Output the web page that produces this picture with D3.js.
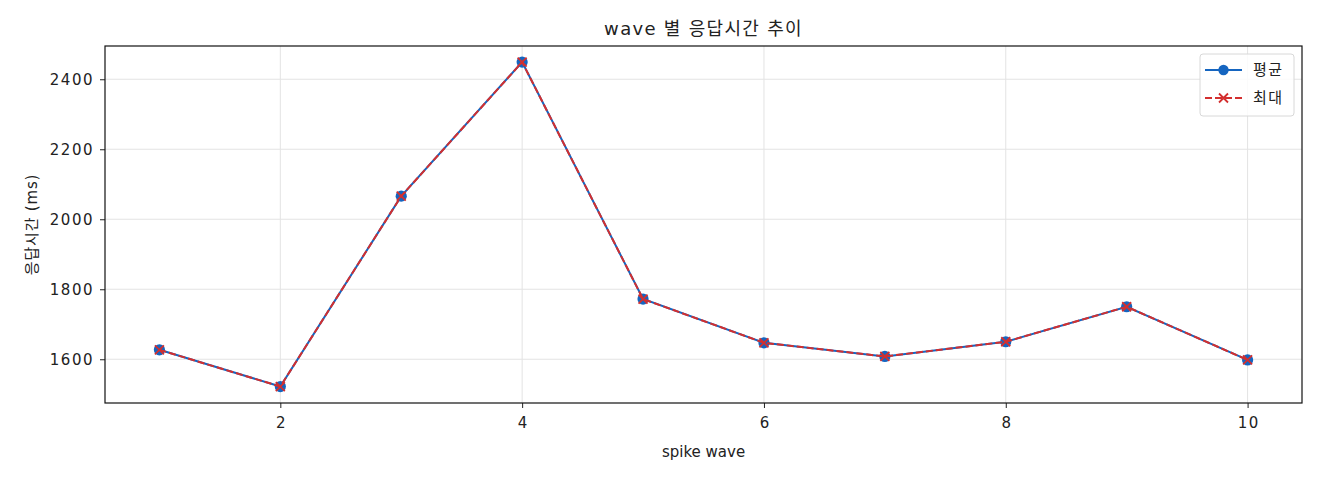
<!DOCTYPE html>
<html>
<head>
<meta charset="utf-8">
<script src="https://cdn.jsdelivr.net/npm/d3@7"></script>
<style>
  body { margin: 0; background: #fff; }
  text { font-family: "DejaVu Sans", "Noto Sans CJK KR", sans-serif; fill: #222; }
</style>
</head>
<body>
<div id="chart"></div>
<script>
// data
var waves = [1, 2, 3, 4, 5, 6, 7, 8, 9, 10];
var avgMs = [1627, 1522, 2066, 2449, 1772, 1647, 1608, 1650, 1750, 1598];
var maxMs = [1627, 1522, 2066, 2449, 1772, 1647, 1608, 1650, 1750, 1598];
var xTicks = [2, 4, 6, 8, 10];
var yTicks = [1600, 1800, 2000, 2200, 2400];
var seriesNames = ["평균", "최대"];

var svgWidth = 1320;
var svgHeight = 480;
var margin = { top: 46, right: 18, bottom: 77, left: 105 };
var width = svgWidth - margin.left - margin.right;
var height = svgHeight - margin.top - margin.bottom;

var blue = "#1565c0";
var red = "#d32f2f";
var fontStack = "\"DejaVu Sans\", \"Noto Sans CJK KR\", sans-serif";

var svg = d3.select("#chart")
  .append("svg")
  .attr("width", svgWidth)
  .attr("height", svgHeight);

var chartGroup = svg.append("g")
  .attr("transform", `translate(${margin.left}, ${margin.top})`);

var xScale = d3.scaleLinear().domain([0.55, 10.45]).range([0, width]);
var yScale = d3.scaleLinear().domain([1475, 2495]).range([height, 0]);

// grid
chartGroup.append("g")
  .selectAll("line")
  .data(xTicks)
  .enter()
  .append("line")
  .attr("x1", d => xScale(d)).attr("x2", d => xScale(d))
  .attr("y1", 0).attr("y2", height)
  .attr("stroke", "#e3e3e3").attr("stroke-width", 1);

chartGroup.append("g")
  .selectAll("line")
  .data(yTicks)
  .enter()
  .append("line")
  .attr("x1", 0).attr("x2", width)
  .attr("y1", d => yScale(d)).attr("y2", d => yScale(d))
  .attr("stroke", "#e3e3e3").attr("stroke-width", 1);

// axes
var bottomAxis = d3.axisBottom(xScale).tickValues(xTicks).tickFormat(d3.format("d"))
  .tickSize(5).tickPadding(9);
var leftAxis = d3.axisLeft(yScale).tickValues(yTicks).tickFormat(d3.format("d"))
  .tickSize(5).tickPadding(6);

var gx = chartGroup.append("g")
  .attr("transform", `translate(0, ${height})`)
  .call(bottomAxis);
var gy = chartGroup.append("g").call(leftAxis);

[gx, gy].forEach(g => {
  g.select(".domain").remove();
  g.selectAll("text")
    .style("font-size", "15px")
    .style("letter-spacing", "1.5px")
    .style("fill", "#222")
    .style("font-family", fontStack);
  g.selectAll("line").attr("stroke", "#222");
});
gx.selectAll("text").attr("dx", "0.75px");

chartGroup.append("rect")
  .attr("width", width).attr("height", height)
  .attr("fill", "none").attr("stroke", "#111").attr("stroke-width", 1.2);

// lines
var line = d3.line()
  .x((d, i) => xScale(waves[i]))
  .y(d => yScale(d));

chartGroup.append("path")
  .datum(avgMs)
  .attr("d", line)
  .attr("fill", "none")
  .attr("stroke", blue)
  .attr("stroke-width", 2);

chartGroup.selectAll(".avgDot")
  .data(avgMs)
  .enter()
  .append("circle")
  .attr("class", "avgDot")
  .attr("cx", (d, i) => xScale(waves[i]))
  .attr("cy", d => yScale(d))
  .attr("r", 5.6)
  .attr("fill", blue);

chartGroup.append("path")
  .datum(maxMs)
  .attr("d", line)
  .attr("fill", "none")
  .attr("stroke", red)
  .attr("stroke-width", 2)
  .attr("stroke-dasharray", "7,3");

var xMark = 4.5;
chartGroup.selectAll(".maxMark")
  .data(maxMs)
  .enter()
  .append("path")
  .attr("class", "maxMark")
  .attr("transform", (d, i) => `translate(${xScale(waves[i])}, ${yScale(d)})`)
  .attr("d", `M${-xMark},${-xMark}L${xMark},${xMark}M${-xMark},${xMark}L${xMark},${-xMark}`)
  .attr("stroke", red)
  .attr("stroke-width", 1.8);

// title and labels
svg.append("text")
  .attr("x", margin.left + width / 2)
  .attr("y", 35)
  .attr("text-anchor", "middle")
  .style("font-size", "18px")
  .style("letter-spacing", "1.3px")
  .text("wave 별 응답시간 추이");

svg.append("text")
  .attr("x", margin.left + width / 2)
  .attr("y", 457)
  .attr("text-anchor", "middle")
  .style("font-size", "15px")
  .text("spike wave");

svg.append("text")
  .attr("transform", `translate(37, ${margin.top + height / 2}) rotate(-90)`)
  .attr("text-anchor", "middle")
  .style("font-size", "15px")
  .style("letter-spacing", "0.8px")
  .text("응답시간 (ms)");

// legend
var legend = svg.append("g").attr("transform", "translate(1200, 54)");
legend.append("rect")
  .attr("width", 94).attr("height", 62)
  .attr("rx", 3)
  .attr("fill", "#fff").attr("fill-opacity", 0.85)
  .attr("stroke", "#d8d8d8");

var legendColors = [blue, red];
seriesNames.forEach((name, i) => {
  var y = 16 + i * 28;
  var item = legend.append("g").attr("transform", `translate(0, ${y})`);
  item.append("line")
    .attr("x1", 5).attr("x2", 42)
    .attr("y1", 0).attr("y2", 0)
    .attr("stroke", legendColors[i])
    .attr("stroke-width", 2)
    .attr("stroke-dasharray", i === 1 ? "7,3" : null);
  if (i === 0) {
    item.append("circle").attr("cx", 23.5).attr("cy", 0).attr("r", 5.2).attr("fill", blue);
  } else {
    item.append("path")
      .attr("transform", "translate(23.5, 0)")
      .attr("d", `M${-xMark},${-xMark}L${xMark},${xMark}M${-xMark},${xMark}L${xMark},${-xMark}`)
      .attr("stroke", red).attr("stroke-width", 1.8);
  }
  item.append("text")
    .attr("x", 53).attr("y", 0)
    .attr("dy", "0.35em")
    .style("font-size", "15px")
    .style("letter-spacing", "1.5px")
    .text(name);
});
</script>
</body>
</html>
